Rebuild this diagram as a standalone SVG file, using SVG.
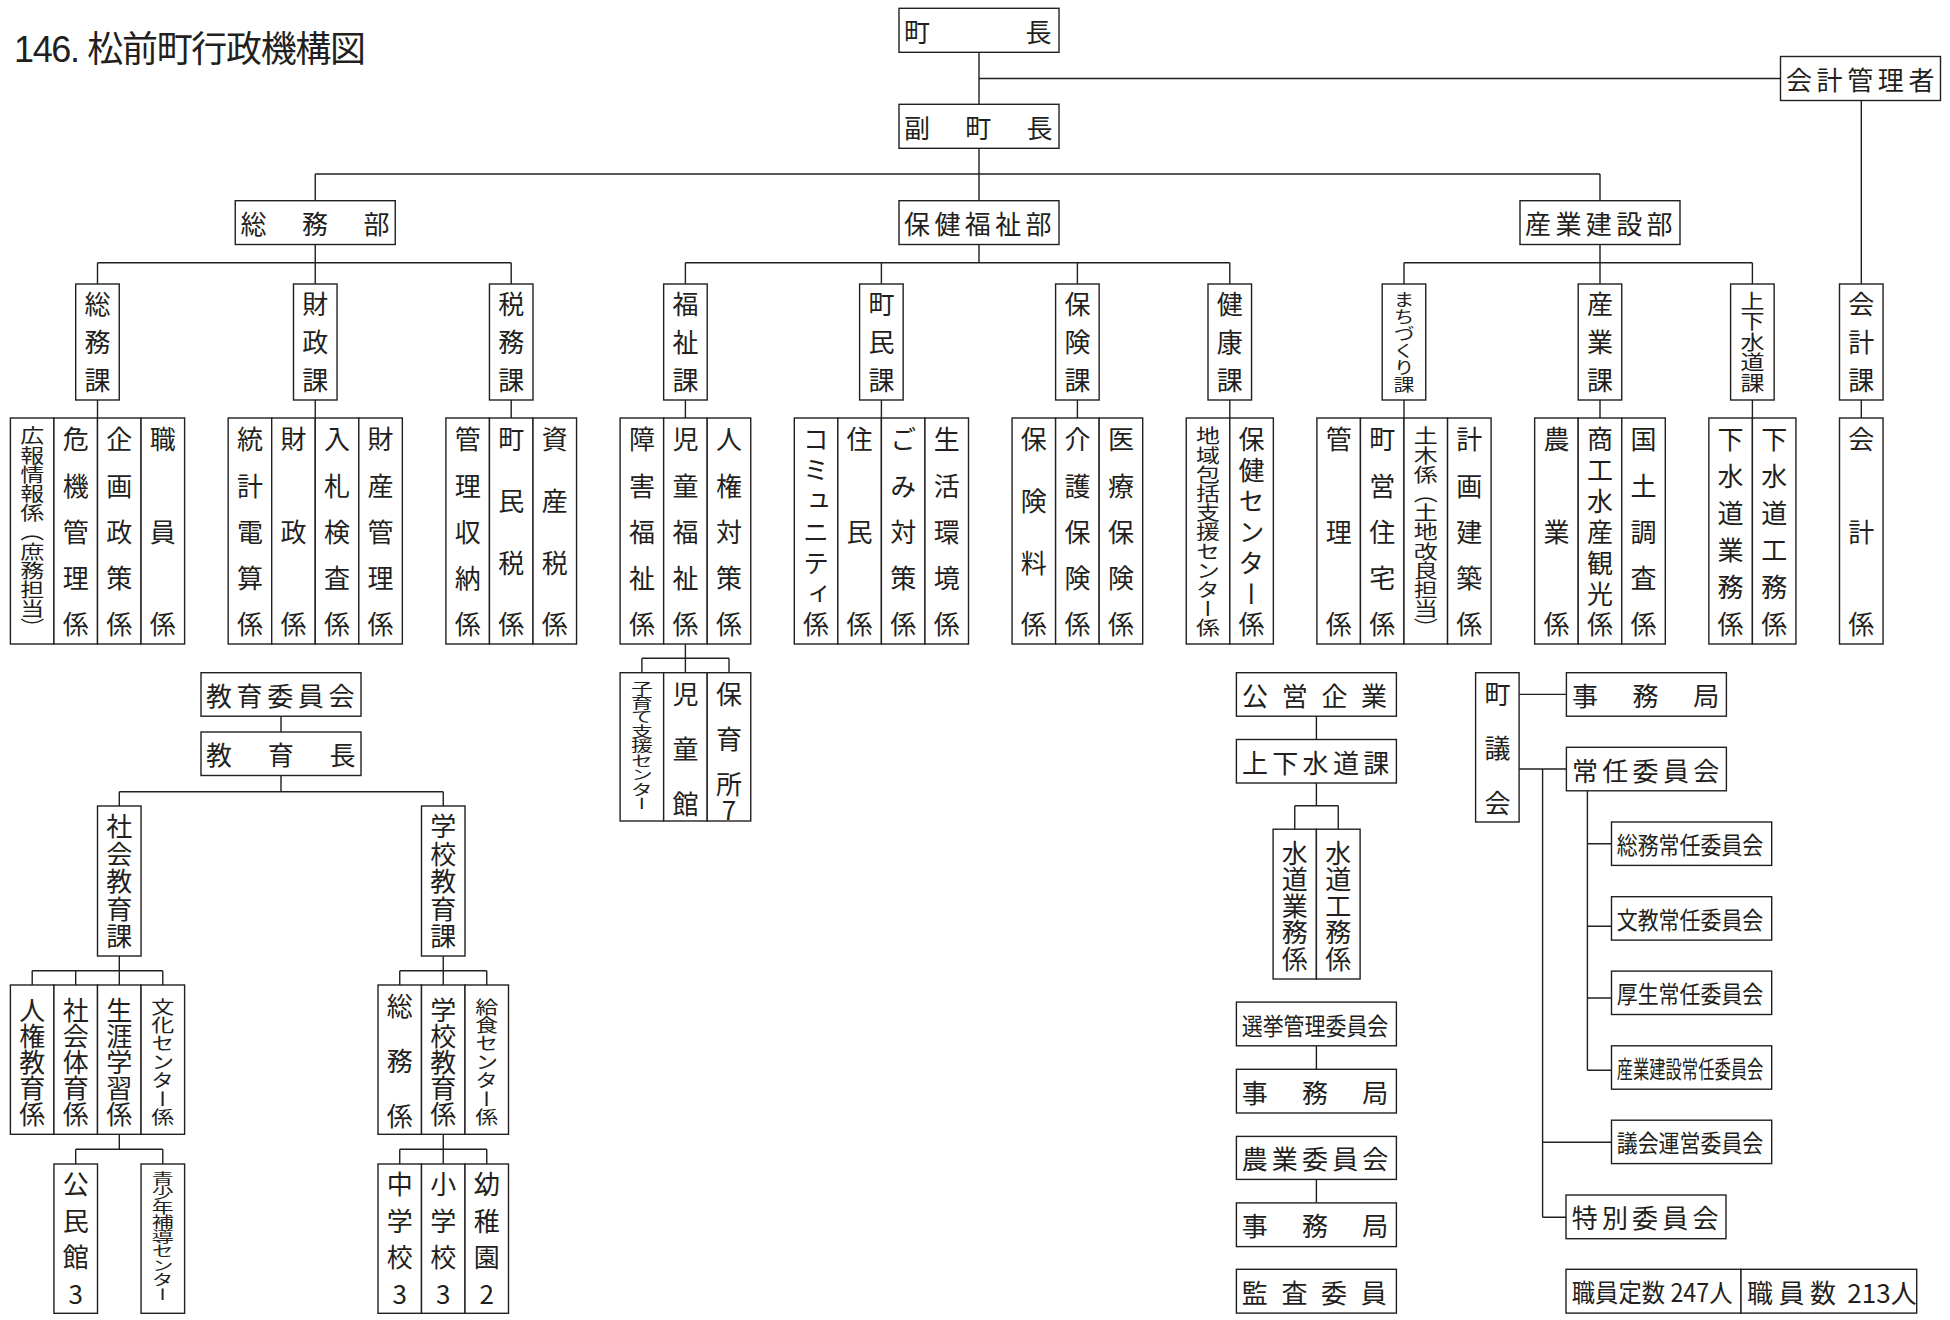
<svg xmlns="http://www.w3.org/2000/svg" width="1950" height="1320" viewBox="0 0 1950 1320">
<style>
.b{fill:#fff;stroke:#231f20;stroke-width:1.4}
.t{font-family:"Noto Sans CJK JP","Noto Sans CJK SC",sans-serif;font-size:26px;fill:#231f20}
.h{dominant-baseline:central}
.v{writing-mode:vertical-rl}
.u{text-orientation:upright}
#connectors path{stroke:#231f20;stroke-width:1.4;fill:none}
</style>
<rect width="1950" height="1320" fill="#fff"/>
<text x="14" y="62" style="font-family:'Liberation Sans','Noto Sans CJK JP',sans-serif;font-size:36px;fill:#231f20" textLength="352" lengthAdjust="spacing">146. 松前町行政機構図</text>

<g id="connectors">
<path d="M979 52.3V104.3M979 78.5H1780.5M979 148.3V200.7M315.25 174H1600M315.25 174V200.7M1600 174V200.7"/>
<path d="M315.25 244.5V262.7M979 244.5V262.7M1600 244.5V262.7M97.5 262.7H511.2M685.4 262.7H1229.8M1404 262.7H1752.4"/>
<path d="M97.5 262.7V284M315.25 262.7V284M511.2 262.7V284M685.4 262.7V284M881.4 262.7V284M1077.4 262.7V284M1229.8 262.7V284M1404 262.7V284M1600 262.7V284M1752.4 262.7V284M1861.3 100.5V284"/>
<path d="M97.5 400V418M315.25 400V418M511.2 400V418M685.4 400V418M881.4 400V418M1077.4 400V418M1229.8 400V418M1404 400V418M1600 400V418M1752.4 400V418M1861.3 400V418"/>
<path d="M685.4 644V672.7M641.9 658.3H729M641.9 658.3V672.7M729 658.3V672.7"/>
<path d="M281 716.2V732M281 775.5V791.7M119.3 791.7H443.25M119.3 791.7V806M443.25 791.7V806"/>
<path d="M119.3 956V985M32.2 970.7H162.8M32.2 970.7V985M75.7 970.7V985M162.8 970.7V985M119.3 1134.3V1149.3M75.7 1149.3H162.8M75.7 1149.3V1164M162.8 1149.3V1164"/>
<path d="M443.25 956V985M399.75 970.7H486.75M399.75 970.7V985M486.75 970.7V985M443.25 1134.3V1164M399.75 1149.3H486.75M399.75 1149.3V1164M486.75 1149.3V1164"/>
<path d="M1316.4 716.2V739.5M1316.4 783V805.8M1294.75 805.8H1338.25M1294.75 805.8V829.2M1338.25 805.8V829.2M1316.4 1045.8V1069.3M1316.4 1179.4V1202.9"/>
<path d="M1519.1 694.4H1566.4M1519.1 769H1566.4M1542.6 769V1217.3M1587.4 790.8V1070.3M1587.4 843.7H1611.5M1587.4 926.3H1611.5M1587.4 998H1611.5M1587.4 1070.3H1611.5M1542.6 1142.3H1611.5M1542.6 1217.3H1566"/>
</g>

<g id="n-chocho"><rect class="b" x="899" y="8.3" width="160" height="44"/><text class="t h" x="904" y="30.3" style="letter-spacing:95.5px">町長</text></g>
<g id="n-fukuchocho"><rect class="b" x="899" y="104.3" width="160" height="44"/><text class="t h" x="904" y="126.3" style="letter-spacing:35.3px">副町長</text></g>
<g id="n-kaikeikanrisha"><rect class="b" x="1780.5" y="56.5" width="160" height="44"/><text class="t h" x="1786" y="78.5" style="letter-spacing:4.6px">会計管理者</text></g>
<g id="n-somubu"><rect class="b" x="235.25" y="200.7" width="160" height="43.8"/><text class="t h" x="240.5" y="222.6" style="letter-spacing:35.5px">総務部</text></g>
<g id="n-hokenfukushibu"><rect class="b" x="899" y="200.7" width="160" height="43.8"/><text class="t h" x="904" y="222.6" style="letter-spacing:4.4px">保健福祉部</text></g>
<g id="n-sangyokensetsubu"><rect class="b" x="1520" y="200.7" width="160" height="43.8"/><text class="t h" x="1525" y="222.6" style="letter-spacing:4.4px">産業建設部</text></g>

<g id="n-somuka"><rect class="b" x="75.7" y="284" width="43.55" height="116"/><text class="t v" x="97.5" y="291" style="letter-spacing:12px">総務課</text></g>
<g id="n-zaiseika"><rect class="b" x="293.5" y="284" width="43.55" height="116"/><text class="t v" x="315.25" y="291" style="letter-spacing:12px">財政課</text></g>
<g id="n-zeimuka"><rect class="b" x="489.45" y="284" width="43.55" height="116"/><text class="t v" x="511.2" y="291" style="letter-spacing:12px">税務課</text></g>
<g id="n-fukushika"><rect class="b" x="663.65" y="284" width="43.55" height="116"/><text class="t v" x="685.4" y="291" style="letter-spacing:12px">福祉課</text></g>
<g id="n-chominka"><rect class="b" x="859.6" y="284" width="43.55" height="116"/><text class="t v" x="881.4" y="291" style="letter-spacing:12px">町民課</text></g>
<g id="n-hokenka"><rect class="b" x="1055.6" y="284" width="43.55" height="116"/><text class="t v" x="1077.4" y="291" style="letter-spacing:12px">保険課</text></g>
<g id="n-kenkoka"><rect class="b" x="1208" y="284" width="43.55" height="116"/><text class="t v" x="1229.8" y="291" style="letter-spacing:12px">健康課</text></g>
<g id="n-machizukurika"><rect class="b" x="1382.2" y="284" width="43.55" height="116"/><text class="t v" transform="translate(1404 291) scale(1 0.81)" style="font-size:21px">まちづくり課</text></g>
<g id="n-sangyoka"><rect class="b" x="1578.2" y="284" width="43.55" height="116"/><text class="t v" x="1600" y="291" style="letter-spacing:12px">産業課</text></g>
<g id="n-jogesuidoka"><rect class="b" x="1730.6" y="284" width="43.55" height="116"/><text class="t v" transform="translate(1752.4 291) scale(1 0.85)" style="font-size:24px">上下水道課</text></g>
<g id="n-kaikeika"><rect class="b" x="1839.5" y="284" width="43.55" height="116"/><text class="t v" x="1861.3" y="291" style="letter-spacing:12px">会計課</text></g>

<g id="n-leaves-somu">
<rect class="b" x="10.4" y="418" width="43.55" height="226"/><rect class="b" x="53.95" y="418" width="43.55" height="226"/><rect class="b" x="97.5" y="418" width="43.55" height="226"/><rect class="b" x="141.05" y="418" width="43.55" height="226"/>
<text class="t v" transform="translate(32.2 426.5) scale(1 0.8)" style="font-size:24px">広報情報係（庶務担当）</text>
<text class="t v" x="75.7" y="426.5" style="letter-spacing:20.25px">危機管理係</text>
<text class="t v" x="119.3" y="426.5" style="letter-spacing:20.25px">企画政策係</text>
<text class="t v" x="162.8" y="426.5" style="letter-spacing:66.5px">職員係</text>
</g>
<g id="n-leaves-zaisei">
<rect class="b" x="228.15" y="418" width="43.55" height="226"/><rect class="b" x="271.7" y="418" width="43.55" height="226"/><rect class="b" x="315.25" y="418" width="43.55" height="226"/><rect class="b" x="358.8" y="418" width="43.55" height="226"/>
<text class="t v" x="249.9" y="426.5" style="letter-spacing:20.25px">統計電算係</text>
<text class="t v" x="293.5" y="426.5" style="letter-spacing:66.5px">財政係</text>
<text class="t v" x="337" y="426.5" style="letter-spacing:20.25px">入札検査係</text>
<text class="t v" x="380.6" y="426.5" style="letter-spacing:20.25px">財産管理係</text>
</g>
<g id="n-leaves-zeimu">
<rect class="b" x="445.9" y="418" width="43.55" height="226"/><rect class="b" x="489.45" y="418" width="43.55" height="226"/><rect class="b" x="533" y="418" width="43.55" height="226"/>
<text class="t v" x="467.7" y="426.5" style="letter-spacing:20.25px">管理収納係</text>
<text class="t v" x="511.2" y="426.5" style="letter-spacing:35.67px">町民税係</text>
<text class="t v" x="554.8" y="426.5" style="letter-spacing:35.67px">資産税係</text>
</g>
<g id="n-leaves-fukushi">
<rect class="b" x="620.1" y="418" width="43.55" height="226"/><rect class="b" x="663.65" y="418" width="43.55" height="226"/><rect class="b" x="707.2" y="418" width="43.55" height="226"/>
<text class="t v" x="641.9" y="426.5" style="letter-spacing:20.25px">障害福祉係</text>
<text class="t v" x="685.4" y="426.5" style="letter-spacing:20.25px">児童福祉係</text>
<text class="t v" x="729" y="426.5" style="letter-spacing:20.25px">人権対策係</text>
</g>
<g id="n-leaves-jido">
<rect class="b" x="620.1" y="672.7" width="43.55" height="148.3"/><rect class="b" x="663.65" y="672.7" width="43.55" height="148.3"/><rect class="b" x="707.2" y="672.7" width="43.55" height="148.3"/>
<text class="t v" transform="translate(641.9 681) scale(1 0.655)" style="font-size:22px">子育て支援センター</text>
<text class="t v" x="685.4" y="681.5" style="letter-spacing:29px">児童館</text>
<text class="t v u" x="729" y="681.5"><tspan style="letter-spacing:19px">保育</tspan>所7</text>
</g>
<g id="n-leaves-chomin">
<rect class="b" x="794.3" y="418" width="43.55" height="226"/><rect class="b" x="837.85" y="418" width="43.55" height="226"/><rect class="b" x="881.4" y="418" width="43.55" height="226"/><rect class="b" x="924.95" y="418" width="43.55" height="226"/>
<text class="t v" x="816.1" y="426.5" style="letter-spacing:4.83px">コミュニティ係</text>
<text class="t v" x="859.6" y="426.5" style="letter-spacing:66.5px">住民係</text>
<text class="t v" x="903.2" y="426.5" style="letter-spacing:20.25px">ごみ対策係</text>
<text class="t v" x="946.7" y="426.5" style="letter-spacing:20.25px">生活環境係</text>
</g>
<g id="n-leaves-hoken">
<rect class="b" x="1012.05" y="418" width="43.55" height="226"/><rect class="b" x="1055.6" y="418" width="43.55" height="226"/><rect class="b" x="1099.15" y="418" width="43.55" height="226"/>
<text class="t v" x="1033.8" y="426.5" style="letter-spacing:35.67px">保険料係</text>
<text class="t v" x="1077.4" y="426.5" style="letter-spacing:20.25px">介護保険係</text>
<text class="t v" x="1120.9" y="426.5" style="letter-spacing:20.25px">医療保険係</text>
</g>
<g id="n-leaves-kenko">
<rect class="b" x="1186.25" y="418" width="43.55" height="226"/><rect class="b" x="1229.8" y="418" width="43.55" height="226"/>
<text class="t v" transform="translate(1208 426.5) scale(1 0.8)" style="font-size:24px">地域包括支援センター係</text>
<text class="t v" x="1251.6" y="426.5" style="letter-spacing:4.83px">保健センター係</text>
</g>
<g id="n-leaves-machizukuri">
<rect class="b" x="1316.9" y="418" width="43.55" height="226"/><rect class="b" x="1360.45" y="418" width="43.55" height="226"/><rect class="b" x="1404" y="418" width="43.55" height="226"/><rect class="b" x="1447.55" y="418" width="43.55" height="226"/>
<text class="t v" x="1338.7" y="426.5" style="letter-spacing:66.5px">管理係</text>
<text class="t v" x="1382.2" y="426.5" style="letter-spacing:20.25px">町営住宅係</text>
<text class="t v" transform="translate(1425.8 426.5) scale(1 0.8)" style="font-size:24px">土木係（土地改良担当）</text>
<text class="t v" x="1469.3" y="426.5" style="letter-spacing:20.25px">計画建築係</text>
</g>
<g id="n-leaves-sangyo">
<rect class="b" x="1534.65" y="418" width="43.55" height="226"/><rect class="b" x="1578.2" y="418" width="43.55" height="226"/><rect class="b" x="1621.75" y="418" width="43.55" height="226"/>
<text class="t v" x="1556.4" y="426.5" style="letter-spacing:66.5px">農業係</text>
<text class="t v" x="1600" y="426.5" style="letter-spacing:4.83px">商工水産観光係</text>
<text class="t v" x="1643.5" y="426.5" style="letter-spacing:20.25px">国土調査係</text>
</g>
<g id="n-leaves-jogesuido">
<rect class="b" x="1708.85" y="418" width="43.55" height="226"/><rect class="b" x="1752.4" y="418" width="43.55" height="226"/>
<text class="t v" x="1730.6" y="426.5" style="letter-spacing:11px">下水道業務係</text>
<text class="t v" x="1774.2" y="426.5" style="letter-spacing:11px">下水道工務係</text>
</g>
<g id="n-leaves-kaikei">
<rect class="b" x="1839.5" y="418" width="43.55" height="226"/>
<text class="t v" x="1861.3" y="426.5" style="letter-spacing:66.5px">会計係</text>
</g>

<g id="n-kyoikuiinkai"><rect class="b" x="201" y="672.7" width="160" height="43.5"/><text class="t h" x="206" y="694.5" style="letter-spacing:4.6px">教育委員会</text></g>
<g id="n-kyoikucho"><rect class="b" x="201" y="732" width="160" height="43.5"/><text class="t h" x="206" y="753.8" style="letter-spacing:35.7px">教育長</text></g>
<g id="n-shakaikyoikuka"><rect class="b" x="97.5" y="806" width="43.55" height="150"/><text class="t v" x="119.3" y="813.5" style="letter-spacing:1.5px">社会教育課</text></g>
<g id="n-gakkokyoikuka"><rect class="b" x="421.5" y="806" width="43.5" height="150"/><text class="t v" x="443.25" y="813.5" style="letter-spacing:1.5px">学校教育課</text></g>
<g id="n-leaves-shakai">
<rect class="b" x="10.4" y="985" width="43.55" height="149.3"/><rect class="b" x="53.95" y="985" width="43.55" height="149.3"/><rect class="b" x="97.5" y="985" width="43.55" height="149.3"/><rect class="b" x="141.05" y="985" width="43.55" height="149.3"/>
<text class="t v" x="32.2" y="997.5">人権教育係</text>
<text class="t v" x="75.7" y="997.5">社会体育係</text>
<text class="t v" x="119.3" y="997.5">生涯学習係</text>
<text class="t v" transform="translate(162.8 997.5) scale(1 0.8)" style="font-size:23px">文化センター係</text>
</g>
<g id="n-leaves-shakai-sub">
<rect class="b" x="53.95" y="1164" width="43.55" height="149.3"/><rect class="b" x="141.05" y="1164" width="43.55" height="149.3"/>
<text class="t v u" x="75.7" y="1171" style="letter-spacing:10.7px">公民館3</text>
<text class="t v" transform="translate(162.8 1171) scale(1 0.66)" style="font-size:22px">青少年補導センター</text>
</g>
<g id="n-leaves-gakko">
<rect class="b" x="378" y="985" width="43.5" height="149.3"/><rect class="b" x="421.5" y="985" width="43.5" height="149.3"/><rect class="b" x="465" y="985" width="43.5" height="149.3"/>
<text class="t v" x="399.75" y="993.5" style="letter-spacing:29px">総務係</text>
<text class="t v" x="443.25" y="997.5">学校教育係</text>
<text class="t v" transform="translate(486.75 997.5) scale(1 0.8)" style="font-size:23px">給食センター係</text>
</g>
<g id="n-leaves-gakko-sub">
<rect class="b" x="378" y="1164" width="43.5" height="149.3"/><rect class="b" x="421.5" y="1164" width="43.5" height="149.3"/><rect class="b" x="465" y="1164" width="43.5" height="149.3"/>
<text class="t v u" x="399.75" y="1171" style="letter-spacing:10.7px">中学校3</text>
<text class="t v u" x="443.25" y="1171" style="letter-spacing:10.7px">小学校3</text>
<text class="t v u" x="486.75" y="1171" style="letter-spacing:10.7px">幼稚園2</text>
</g>

<g id="n-koeikigyo"><rect class="b" x="1236.4" y="672.7" width="160" height="43.5"/><text class="t h" x="1242" y="694.5" style="letter-spacing:13.7px">公営企業</text></g>
<g id="n-jogesuidoka2"><rect class="b" x="1236.4" y="739.5" width="160" height="43.5"/><text class="t h" x="1242" y="761.3" style="letter-spacing:4.3px">上下水道課</text></g>
<g id="n-leaves-suido">
<rect class="b" x="1273.1" y="829.2" width="43.3" height="149.8"/><rect class="b" x="1316.4" y="829.2" width="43.7" height="149.8"/>
<text class="t v" x="1294.75" y="840" style="letter-spacing:0.5px">水道業務係</text>
<text class="t v" x="1338.25" y="840" style="letter-spacing:0.5px">水道工務係</text>
</g>
<g id="n-senkyo"><rect class="b" x="1236.4" y="1002.1" width="160" height="43.7"/><text class="t h" x="1241.7" y="1024" style="font-size:24px" textLength="146.6" lengthAdjust="spacingAndGlyphs">選挙管理委員会</text></g>
<g id="n-jimukyoku1"><rect class="b" x="1236.4" y="1069.3" width="160" height="43.7"/><text class="t h" x="1241.7" y="1091.2" style="letter-spacing:34.3px">事務局</text></g>
<g id="n-nogyo"><rect class="b" x="1236.4" y="1136.4" width="160" height="43"/><text class="t h" x="1241.7" y="1157.9" style="letter-spacing:4.15px">農業委員会</text></g>
<g id="n-jimukyoku2"><rect class="b" x="1236.4" y="1202.9" width="160" height="43.7"/><text class="t h" x="1241.7" y="1224.8" style="letter-spacing:34.3px">事務局</text></g>
<g id="n-kansa"><rect class="b" x="1236.4" y="1269.3" width="160" height="43.8"/><text class="t h" x="1241.7" y="1291.2" style="letter-spacing:13.7px">監査委員</text></g>

<g id="n-chogikai"><rect class="b" x="1475.6" y="672.7" width="43.5" height="149.3"/><text class="t v" x="1497.4" y="681" style="letter-spacing:28.5px">町議会</text></g>
<g id="n-gikaijimukyoku"><rect class="b" x="1566.4" y="672.7" width="160" height="43.5"/><text class="t h" x="1572" y="694.5" style="letter-spacing:34.6px">事務局</text></g>
<g id="n-joniniinkai"><rect class="b" x="1566.4" y="747.3" width="160" height="43.5"/><text class="t h" x="1572" y="769" style="letter-spacing:4.3px">常任委員会</text></g>
<g id="n-somujonin"><rect class="b" x="1611.5" y="822" width="160.2" height="43.4"/><text class="t h" x="1616.7" y="843.7" style="font-size:24px" textLength="146.6" lengthAdjust="spacingAndGlyphs">総務常任委員会</text></g>
<g id="n-bunkyojonin"><rect class="b" x="1611.5" y="896.7" width="160.2" height="43.4"/><text class="t h" x="1616.7" y="918.4" style="font-size:24px" textLength="146.6" lengthAdjust="spacingAndGlyphs">文教常任委員会</text></g>
<g id="n-koseijonin"><rect class="b" x="1611.5" y="971.1" width="160.2" height="43.4"/><text class="t h" x="1616.7" y="992.8" style="font-size:24px" textLength="146.6" lengthAdjust="spacingAndGlyphs">厚生常任委員会</text></g>
<g id="n-sangyokensetsujonin"><rect class="b" x="1611.5" y="1045.8" width="160.2" height="43.4"/><text class="t h" x="1616.7" y="1067.5" style="font-size:24px" textLength="146.6" lengthAdjust="spacingAndGlyphs">産業建設常任委員会</text></g>
<g id="n-gikaiunei"><rect class="b" x="1611.5" y="1120.2" width="160.2" height="43.4"/><text class="t h" x="1616.7" y="1141.9" style="font-size:24px" textLength="146.6" lengthAdjust="spacingAndGlyphs">議会運営委員会</text></g>
<g id="n-tokubetsu"><rect class="b" x="1566" y="1195" width="160" height="43.7"/><text class="t h" x="1571.7" y="1216.9" style="letter-spacing:4.2px">特別委員会</text></g>
<g id="n-shokuin">
<rect class="b" x="1566" y="1269.3" width="175" height="43.8"/><rect class="b" x="1741" y="1269.3" width="175.7" height="43.8"/>
<text class="t h" x="1571.7" y="1291.2" style="font-size:25px" textLength="161" lengthAdjust="spacingAndGlyphs">職員定数 247人</text>
<text class="t h" x="1747" y="1291.2"><tspan style="letter-spacing:5.5px">職員数</tspan> 213人</text>
</g>
</svg>
